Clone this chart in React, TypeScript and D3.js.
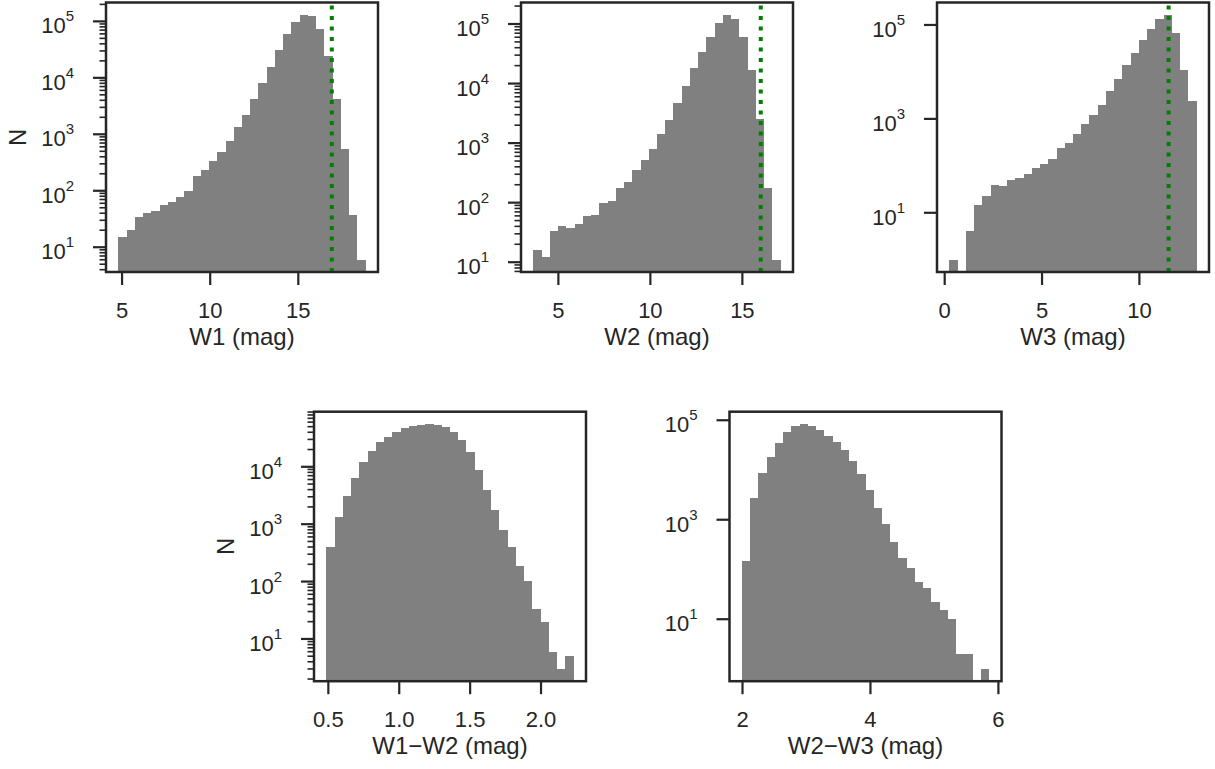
import React from 'react';
import * as d3 from 'd3';

// histogram counts (30 equal bins over each range)
const w1Counts = [15, 20, 35, 40, 43, 55, 64, 79, 101, 180, 230, 341, 479, 748, 1324, 2160, 4140, 7940, 15850, 31600, 60700, 98800, 131000, 122700, 74300, 24100, 4140, 541, 37, 6];
const w2Counts = [16, 12, 33, 40, 37, 44, 60, 63, 99, 107, 177, 223, 354, 520, 794, 1413, 2420, 4660, 8950, 17900, 34400, 61400, 105000, 143000, 122600, 61400, 17200, 2510, 177, 11];
const w3Counts = [1, 0, 4, 15, 23, 39, 37, 50, 55, 66, 89, 112, 138, 236, 302, 469, 764, 1186, 1995, 3840, 6900, 13700, 25800, 48100, 83400, 136000, 165000, 68700, 11200, 2450];
const w12Counts = [408, 1355, 3140, 6440, 12200, 18950, 27200, 33600, 40500, 47600, 51500, 53600, 55800, 53600, 49500, 40500, 29400, 18200, 8870, 3990, 1792, 805, 408, 184, 101, 33, 20, 6, 3, 5];
const w23Counts = [147, 2790, 8830, 18450, 35200, 58300, 76900, 84300, 76900, 64000, 48500, 36800, 25500, 15300, 8430, 4040, 1760, 806, 352, 168, 106, 56, 42, 22, 15, 10, 2, 2, 0, 1];

// data ranges of the histograms (mag)
const w1Range = [4.79, 18.82];
const w2Range = [3.64, 17.08];
const w3Range = [0.24, 12.94];
const w12Range = [0.486, 2.23];
const w23Range = [1.99, 5.855];

// detection limits (dotted green lines)
const w1Limit = 16.9;
const w2Limit = 16.0;
const w3Limit = 11.5;

// tick values
const w1XTicks = [5, 10, 15];
const w2XTicks = [5, 10, 15];
const w3XTicks = [0, 5, 10];
const w12XTicks = [0.5, 1.0, 1.5, 2.0];
const w23XTicks = [2, 4, 6];
const yExpFull = [1, 2, 3, 4, 5];
const yExpOdd = [1, 3, 5];
const yExp12 = [1, 2, 3, 4];

const W = 272;
const H = 269.5;
const FONT = '"Liberation Sans", Arial, Helvetica, sans-serif';
const INK = '#262626';

const panels = [
  { counts: w1Counts, range: w1Range, xTicks: w1XTicks, fmt: 'd', yExp: yExpFull, minor: true, label: 'W1 (mag)', limit: w1Limit, left: 106, top: 2.5, yLabel: true },
  { counts: w2Counts, range: w2Range, xTicks: w2XTicks, fmt: 'd', yExp: yExpFull, minor: true, label: 'W2 (mag)', limit: w2Limit, left: 521, top: 2.5, yLabel: false },
  { counts: w3Counts, range: w3Range, xTicks: w3XTicks, fmt: 'd', yExp: yExpOdd, minor: false, label: 'W3 (mag)', limit: w3Limit, left: 937, top: 2.5, yLabel: false },
  { counts: w12Counts, range: w12Range, xTicks: w12XTicks, fmt: '.1f', yExp: yExp12, minor: true, label: 'W1\u2212W2 (mag)', limit: null, left: 314, top: 411.7, yLabel: true },
  { counts: w23Counts, range: w23Range, xTicks: w23XTicks, fmt: 'd', yExp: yExpOdd, minor: false, label: 'W2\u2212W3 (mag)', limit: null, left: 729.5, top: 411.7, yLabel: false },
];

const Panel = ({ p }) => {
  const n = p.counts.length;
  const [lo, hi] = p.range;
  const pad = (hi - lo) * 0.05;
  const x = d3.scaleLinear().domain([lo - pad, hi + pad]).range([p.left, p.left + W]);

  const nz = p.counts.filter(c => c > 0);
  const lmin = Math.log10(d3.min(nz));
  const lmax = Math.log10(d3.max(nz));
  const lp = (lmax - lmin) * 0.05;
  const y = d3.scaleLog().domain([10 ** (lmin - lp), 10 ** (lmax + lp)]).range([p.top + H, p.top]);

  const bottom = p.top + H;
  const step = (hi - lo) / n;
  const bins = p.counts.map((c, i) => ({ x0: lo + i * step, x1: lo + (i + 1) * step, c }));
  const fmt = d3.format(p.fmt);
  const minorTicks = p.minor
    ? y.ticks().filter(v => Math.abs(Math.log10(v) - Math.round(Math.log10(v))) > 1e-6)
    : [];

  return (
    <g>
      {bins.filter(b => b.c > 0).map((b, i) => (
        <rect key={i} x={x(b.x0)} y={y(b.c)} width={x(b.x1) - x(b.x0)} height={bottom - y(b.c)}
          fill="#808080" shapeRendering="crispEdges" />
      ))}
      {p.limit != null && (
        <line x1={x(p.limit)} x2={x(p.limit)} y1={bottom} y2={p.top} stroke="#008000"
          strokeWidth={4} strokeDasharray="4 6.5" />
      )}
      {/* frame */}
      <rect x={p.left} y={p.top} width={W} height={H} fill="none" stroke={INK} strokeWidth={2.5} />
      {/* x ticks */}
      {p.xTicks.map(t => (
        <g key={t}>
          <line x1={x(t)} x2={x(t)} y1={bottom} y2={bottom + 13} stroke={INK} strokeWidth={2.2} />
          <text x={x(t)} y={bottom + 46} textAnchor="middle" fontSize={22} fill={INK} fontFamily={FONT}>{fmt(t)}</text>
        </g>
      ))}
      {/* y minor ticks */}
      {minorTicks.map(v => (
        <line key={v} x1={p.left - 6.5} x2={p.left} y1={y(v)} y2={y(v)} stroke={INK} strokeWidth={1.6} />
      ))}
      {/* y major ticks */}
      {p.yExp.map(e => {
        const yy = y(10 ** e);
        return (
          <g key={e}>
            <line x1={p.left - 13} x2={p.left} y1={yy} y2={yy} stroke={INK} strokeWidth={2.2} />
            <text x={p.left - 32} y={yy + 12} textAnchor="end" fontSize={22} fill={INK} fontFamily={FONT}>
              10<tspan fontSize={15} dy={-12}>{e}</tspan>
            </text>
          </g>
        );
      })}
      <text x={p.left + W / 2} y={bottom + 73} textAnchor="middle" fontSize={24} fill={INK} fontFamily={FONT}>{p.label}</text>
      {p.yLabel && (
        <text transform={`translate(${p.left - 80},${p.top + H / 2}) rotate(-90)`} textAnchor="middle"
          fontSize={24} fill={INK} fontFamily={FONT}>N</text>
      )}
    </g>
  );
};

const App = () => (
  <svg width={1215} height={769} style={{ position: 'absolute', left: 0, top: 0, background: '#fff' }}>
    {panels.map((p, i) => <Panel key={i} p={p} />)}
  </svg>
);

export default App;
